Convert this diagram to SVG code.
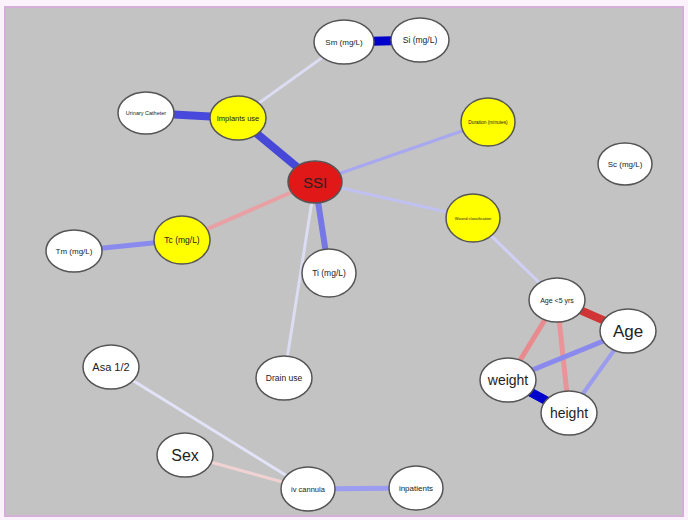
<svg xmlns="http://www.w3.org/2000/svg" width="688" height="520" viewBox="0 0 688 520">
<style>
.n{fill:#fff;stroke:#555;stroke-width:1.5}
.y{fill:#ffff00;stroke:#555;stroke-width:1.5}
.r{fill:#e01818;stroke:#555;stroke-width:1.5}
text{font-family:"Liberation Sans",Arial,sans-serif;fill:#222;text-anchor:middle;dominant-baseline:central}
#edges line{stroke-linecap:butt}
</style>
<rect x="0" y="0" width="688" height="520" fill="#fbf2fb"/>
<rect x="5" y="7" width="678" height="509" fill="#c3c3c3" stroke="#d4b0d8" stroke-width="2"/>
<g id="edges">
<line x1="344" y1="42" x2="420" y2="40" stroke="#0000cc" stroke-width="9"/>
<line x1="344" y1="42" x2="238" y2="118" stroke="#dcdcf2" stroke-width="3"/>
<line x1="146" y1="113" x2="238" y2="118" stroke="#4848dc" stroke-width="8"/>
<line x1="238" y1="118" x2="315" y2="182" stroke="#4848d8" stroke-width="8"/>
<line x1="315" y1="182" x2="488" y2="122" stroke="#a8a8f0" stroke-width="3"/>
<line x1="315" y1="182" x2="473" y2="218" stroke="#c0c0f2" stroke-width="3"/>
<line x1="315" y1="182" x2="182" y2="240" stroke="#e8a0a4" stroke-width="4"/>
<line x1="315" y1="182" x2="329" y2="273" stroke="#7676e4" stroke-width="6"/>
<line x1="315" y1="182" x2="284" y2="378" stroke="#dcdcf2" stroke-width="3"/>
<line x1="182" y1="240" x2="74" y2="251" stroke="#8a8aee" stroke-width="5"/>
<line x1="473" y1="218" x2="557" y2="300" stroke="#d0d0f6" stroke-width="3"/>
<line x1="557" y1="300" x2="628" y2="331" stroke="#d03434" stroke-width="8"/>
<line x1="557" y1="300" x2="508" y2="380" stroke="#e88a8e" stroke-width="5"/>
<line x1="557" y1="300" x2="569" y2="413" stroke="#e89498" stroke-width="5"/>
<line x1="628" y1="331" x2="508" y2="380" stroke="#8a8aee" stroke-width="5"/>
<line x1="628" y1="331" x2="569" y2="413" stroke="#9c9cee" stroke-width="4"/>
<line x1="508" y1="380" x2="569" y2="413" stroke="#0000cc" stroke-width="9"/>
<line x1="111" y1="367" x2="308" y2="489" stroke="#e2e2f8" stroke-width="3"/>
<line x1="185" y1="455" x2="308" y2="489" stroke="#f0d2d2" stroke-width="3"/>
<line x1="308" y1="489" x2="416" y2="488" stroke="#9c9cf0" stroke-width="5"/>
</g>
<g id="sm"><ellipse class="n" cx="344" cy="42" rx="30" ry="22"/><text x="344" y="42" font-size="8">Sm (mg/L)</text></g>
<g id="si"><ellipse class="n" cx="420" cy="40" rx="29" ry="22"/><text x="420" y="40" font-size="8.5">Si (mg/L)</text></g>
<g id="urinary"><ellipse class="n" cx="146" cy="113" rx="28" ry="21"/><text x="146" y="113" font-size="5.5">Urinary Catheter</text></g>
<g id="implants"><ellipse class="y" cx="238" cy="118" rx="28" ry="22"/><text x="238" y="118" font-size="7.5">Implants use</text></g>
<g id="duration"><ellipse class="y" cx="488" cy="122" rx="27" ry="24"/><text x="488" y="122" font-size="4.8">Duration (minutes)</text></g>
<g id="sc"><ellipse class="n" cx="625" cy="164" rx="27" ry="21"/><text x="625" y="164" font-size="8">Sc (mg/L)</text></g>
<g id="ssi"><ellipse class="r" cx="315" cy="182" rx="27" ry="21"/><text x="315" y="182" font-size="15" fill="#4a0a0a">SSI</text></g>
<g id="wound"><ellipse class="y" cx="473" cy="218" rx="27" ry="24"/><text x="473" y="218" font-size="4">Wound classification</text></g>
<g id="tc"><ellipse class="y" cx="182" cy="240" rx="28" ry="24"/><text x="182" y="240" font-size="8.5">Tc (mg/L)</text></g>
<g id="tm"><ellipse class="n" cx="74" cy="251" rx="28" ry="21"/><text x="74" y="251" font-size="8">Tm (mg/L)</text></g>
<g id="ti"><ellipse class="n" cx="329" cy="273" rx="27" ry="24"/><text x="329" y="273" font-size="8.5">Ti (mg/L)</text></g>
<g id="age5"><ellipse class="n" cx="557" cy="300" rx="28" ry="22"/><text x="557" y="300" font-size="7">Age &lt;5 yrs</text></g>
<g id="age"><ellipse class="n" cx="628" cy="331" rx="28" ry="22"/><text x="628" y="331" font-size="17">Age</text></g>
<g id="weight"><ellipse class="n" cx="508" cy="380" rx="28" ry="22"/><text x="508" y="380" font-size="14">weight</text></g>
<g id="height"><ellipse class="n" cx="569" cy="413" rx="28" ry="22"/><text x="569" y="413" font-size="14">height</text></g>
<g id="asa"><ellipse class="n" cx="111" cy="367" rx="28" ry="22"/><text x="111" y="367" font-size="11">Asa 1/2</text></g>
<g id="drain"><ellipse class="n" cx="284" cy="378" rx="28" ry="22"/><text x="284" y="378" font-size="8.5">Drain use</text></g>
<g id="sex"><ellipse class="n" cx="185" cy="455" rx="28" ry="22"/><text x="185" y="455" font-size="16">Sex</text></g>
<g id="iv"><ellipse class="n" cx="308" cy="489" rx="27" ry="22"/><text x="308" y="489" font-size="7.5">iv cannula</text></g>
<g id="inpatients"><ellipse class="n" cx="416" cy="488" rx="27" ry="22"/><text x="416" y="488" font-size="8">inpatients</text></g>
</svg>
